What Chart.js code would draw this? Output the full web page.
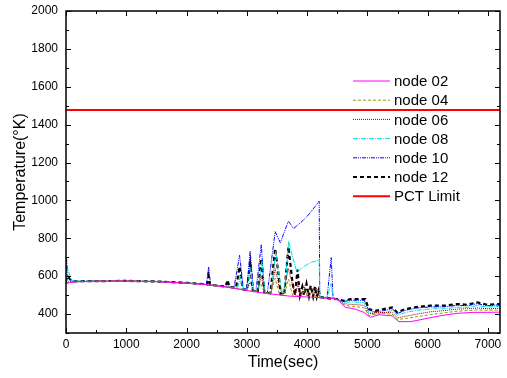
<!DOCTYPE html>
<html>
<head>
<meta charset="utf-8">
<script src="https://cdn.jsdelivr.net/npm/chart.js@4/dist/chart.umd.min.js"></script>
<style>
  body { margin: 0; background: #fff; }
  canvas { display: block; }
</style>
</head>
<body>
<canvas id="tempChart" width="507" height="378"></canvas>
<script>
// valeurs : [temps (s), température (K)]
const node02 = [[0,560],[60,566],[150,570],[500,573],[1000,574],[1500,571],[2000,563],[2300,556],[2700,541],[3000,524],[3300,510],[3700,495],[4200,487],[4450,482],[4500,478],[4550,461],[4635,435],[4700,432],[4800,426],[4940,409],[5050,383],[5190,396],[5410,391],[5520,360],[5710,360],[5820,366],[5940,374],[6210,391],[6490,404],[6770,409],[6990,409],[7200,410]];

const node04 = [[0,565],[80,570],[500,573],[1000,574],[1500,571],[2000,563],[2300,556],[2700,541],[3000,525],[3150,518],[3230,560],[3290,514],[3400,508],[3470,590],[3540,505],[3620,500],[3690,585],[3760,498],[3900,494],[3960,525],[4020,492],[4100,515],[4160,490],[4450,482],[4520,474],[4600,450],[4700,442],[4800,440],[4950,432],[5020,392],[5130,400],[5270,402],[5410,400],[5500,372],[5630,376],[5820,386],[6050,398],[6270,406],[6490,415],[6660,418],[6820,422],[6990,420],[7150,421],[7200,421]];

const node06 = [[0,568],[80,571],[500,574],[1000,575],[1500,572],[2000,564],[2300,557],[2700,542],[3000,526],[3055,570],[3110,522],[3180,518],[3240,600],[3300,514],[3400,509],[3470,640],[3540,540],[3600,503],[3690,640],[3770,540],[3800,499],[3850,560],[3900,496],[3950,550],[4000,494],[4050,545],[4100,492],[4150,540],[4200,489],[4450,482],[4520,475],[4600,455],[4700,452],[4800,450],[4950,446],[5020,400],[5130,408],[5270,408],[5410,408],[5500,380],[5630,388],[5820,400],[6050,412],[6270,418],[6490,426],[6660,428],[6820,432],[6990,428],[7150,430],[7200,430]];

const node08 = [[0,575],[30,640],[90,575],[500,574],[1000,575],[1500,572],[2000,564],[2300,557],[2700,542],[2850,538],[2890,600],[2940,530],[3000,526],[3060,640],[3110,522],[3180,518],[3250,680],[3300,514],[3400,510],[3480,730],[3555,560],[3600,503],[3650,600],[3693,786],[3760,700],[3832,620],[3900,640],[4000,662],[4100,676],[4200,684],[4210,490],[4330,486],[4400,560],[4430,482],[4500,476],[4600,460],[4700,464],[4800,463],[4950,460],[5020,410],[5130,400],[5270,408],[5410,418],[5500,392],[5630,408],[5820,420],[6050,427],[6270,428],[6490,436],[6660,435],[6820,445],[6990,437],[7150,440],[7200,438]];

const node10 = [[0,580],[10,690],[30,600],[80,573],[500,574],[1000,575],[1500,572],[2000,564],[2300,557],[2330,555],[2365,650],[2400,553],[2750,541],[2790,545],[2880,710],[2940,540],[2960,528],[3000,535],[3055,733],[3110,525],[3150,520],[3240,768],[3290,515],[3340,512],[3470,835],[3555,777],[3690,891],[3775,851],[3900,885],[4000,915],[4100,955],[4200,996],[4210,488],[4330,485],[4400,698],[4430,482],[4500,478],[4600,466],[4700,472],[4800,473],[4950,472],[5020,420],[5130,410],[5270,418],[5410,428],[5500,403],[5630,420],[5820,432],[6050,438],[6270,438],[6490,446],[6660,444],[6820,455],[6990,444],[7150,448],[7200,446]];

const node12 = [[0,572],[20,600],[100,573],[500,574],[1000,575],[1500,572],[2000,565],[2300,558],[2340,556],[2365,600],[2390,554],[2650,545],[2680,580],[2710,543],[2820,538],[2880,650],[2930,532],[3000,527],[3055,665],[3100,523],[3180,518],[3240,690],[3290,514],[3390,510],[3470,745],[3530,600],[3560,505],[3620,502],[3690,755],[3760,560],[3800,500],[3840,635],[3880,498],[3920,545],[3950,500],[3990,560],[4030,495],[4060,550],[4100,493],[4130,545],[4160,491],[4190,525],[4220,489],[4440,480],[4500,479],[4607,470],[4718,479],[4967,479],[5022,426],[5133,417],[5271,426],[5410,435],[5493,409],[5631,426],[5825,438],[6047,444],[6268,444],[6490,453],[6656,449],[6822,462],[6988,449],[7154,453],[7200,451]];

const pctLimit = [[0,1477],[7200,1477]];

const seriesNames = ["node 02", "node 04", "node 06", "node 08", "node 10", "node 12", "PCT Limit"];
const xTicks = [0, 1000, 2000, 3000, 4000, 5000, 6000, 7000];
const yTicks = [400, 600, 800, 1000, 1200, 1400, 1600, 1800, 2000];

const FONT = "'Liberation Sans', Arial, sans-serif";

function serie(label, data, color, dash, width) {
    return {
        label: label,
        data: data,
        borderColor: color,
        borderDash: dash,
        borderWidth: width,
        pointRadius: 0,
        tension: 0,
        fill: false
    };
}

// graduations vers l'intérieur sur les quatre côtés + cadre
const cadrePlugin = {
    id: "cadre",
    afterDatasetsDraw(chart) {
        const ctx = chart.ctx;
        const a = chart.chartArea;
        const sx = chart.scales.x, sy = chart.scales.y;
        ctx.save();
        ctx.strokeStyle = "#000";
        ctx.lineWidth = 1;
        ctx.beginPath();
        for (let t = 0; t <= 7200; t += 500) {
            const px = Math.round(sx.getPixelForValue(t)) + 0.5;
            const len = t % 1000 === 0 ? 5 : 3;
            ctx.moveTo(px, a.bottom); ctx.lineTo(px, a.bottom - len);
            ctx.moveTo(px, a.top); ctx.lineTo(px, a.top + len);
        }
        for (let v = 300; v <= 2000; v += 100) {
            const py = Math.round(sy.getPixelForValue(v)) + 0.5;
            const len = v % 200 === 0 ? 5 : 3;
            ctx.moveTo(a.left, py); ctx.lineTo(a.left + len, py);
            ctx.moveTo(a.right, py); ctx.lineTo(a.right - len, py);
        }
        ctx.stroke();
        ctx.lineWidth = 1.5;
        ctx.strokeRect(a.left, a.top, a.right - a.left, a.bottom - a.top);
        ctx.restore();
    }
};

// légende dans la zone du graphique, sans cadre
const legendePlugin = {
    id: "legende",
    afterDraw(chart) {
        const ctx = chart.ctx;
        ctx.save();
        ctx.font = "15px " + FONT;
        ctx.textBaseline = "middle";
        ctx.fillStyle = "#000";
        chart.data.datasets.forEach((ds, i) => {
            const y = 81 + i * 19.2;
            ctx.strokeStyle = ds.borderColor;
            ctx.lineWidth = ds.borderWidth;
            ctx.setLineDash(ds.borderDash || []);
            ctx.beginPath();
            ctx.moveTo(353, y);
            ctx.lineTo(390, y);
            ctx.stroke();
            ctx.setLineDash([]);
            ctx.fillText(ds.label, 394, y + 1);
        });
        ctx.restore();
    }
};

new Chart(document.getElementById("tempChart").getContext("2d"), {
    type: "line",
    data: {
        datasets: [
            serie(seriesNames[0], node02, "#ff00ff", [], 1),
            serie(seriesNames[1], node04, "#999900", [3, 2], 1),
            serie(seriesNames[2], node06, "#800000", [1, 1], 1),
            serie(seriesNames[3], node08, "#00e0e0", [5, 1, 1, 1], 1),
            serie(seriesNames[4], node10, "#0000ff", [4, 1, 1, 1, 1, 1], 1),
            serie(seriesNames[5], node12, "#000000", [4, 3], 2.2),
            serie(seriesNames[6], pctLimit, "#ff0000", [], 2)
        ]
    },
    options: {
        responsive: false,
        animation: false,
        layout: { padding: { top: 11, right: 7, left: 0, bottom: 0 } },
        plugins: {
            legend: { display: false },
            tooltip: { enabled: false }
        },
        scales: {
            x: {
                type: "linear",
                min: 0,
                max: 7200,
                afterFit: s => { s.height = 45; s.paddingLeft = 0; s.paddingRight = 0; },
                afterBuildTicks: s => { s.ticks = xTicks.map(v => ({ value: v })); },
                grid: { display: false, drawTicks: false },
                border: { display: false },
                ticks: {
                    color: "#000",
                    font: { family: FONT, size: 12 },
                    padding: 4,
                    maxRotation: 0,
                    autoSkip: false,
                    callback: v => String(v)
                },
                title: {
                    display: true,
                    text: "Time(sec)",
                    color: "#000",
                    font: { family: FONT, size: 16 },
                    padding: { top: 0, bottom: 6 }
                }
            },
            y: {
                type: "linear",
                min: 300,
                max: 2000,
                afterFit: s => { s.width = 66; s.paddingTop = 0; s.paddingBottom = 0; },
                afterBuildTicks: s => { s.ticks = yTicks.map(v => ({ value: v })); },
                grid: { display: false, drawTicks: false },
                border: { display: false },
                ticks: {
                    color: "#000",
                    font: { family: FONT, size: 12 },
                    padding: 8,
                    autoSkip: false,
                    callback: v => String(v)
                },
                title: {
                    display: true,
                    text: "Temperature(°K)",
                    color: "#000",
                    font: { family: FONT, size: 16 },
                    padding: { top: 11, bottom: 0 }
                }
            }
        }
    },
    plugins: [cadrePlugin, legendePlugin]
});
</script>
</body>
</html>
